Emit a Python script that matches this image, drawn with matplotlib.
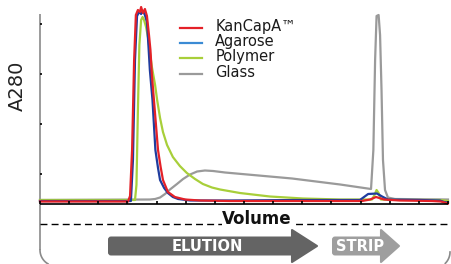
import numpy as np
import matplotlib
matplotlib.use('Agg')
import matplotlib.pyplot as plt
from matplotlib.patches import FancyBboxPatch, Polygon

# ---------------- data (volume in tick units, A280 in arbitrary units) ----------------
kancapa_x = [0.00, 3.02, 3.09, 3.16, 3.23, 3.29, 3.36, 3.43, 3.47, 3.53, 3.60, 3.67, 3.74, 3.79,
             3.84, 3.91, 3.98, 4.05, 4.14, 4.22, 4.39, 4.63, 4.98, 5.49, 6.52, 8.92, 11.05,
             11.33, 11.53, 11.81, 12.35, 13.45, 13.76, 14.00]
kancapa_y = [0.0, 0.0, 0.055, 0.515, 1.415, 1.865, 1.915, 1.895, 1.945, 1.885, 1.925, 1.855, 1.665, 1.515,
             1.265, 1.015, 0.765, 0.515, 0.345, 0.215, 0.095, 0.045, 0.02, 0.01, 0.005, 0.005, 0.005,
             0.02, 0.045, 0.02, 0.01, 0.005, 0.0, -0.02]

agarose_x = [0.00, 3.12, 3.19, 3.26, 3.33, 3.40, 3.47, 3.53, 3.60, 3.67, 3.72, 3.77, 3.86, 3.91,
             3.96, 4.05, 4.12, 4.26, 4.39, 4.56, 4.74, 5.15, 6.52, 8.92, 10.98, 11.12, 11.26,
             11.56, 11.74, 11.94, 13.04, 13.73, 13.86, 14.00]
agarose_y = [0.005, 0.005, 0.415, 1.415, 1.855, 1.895, 1.875, 1.905, 1.865, 1.795, 1.565, 1.315, 1.015, 0.765,
             0.515, 0.335, 0.215, 0.135, 0.085, 0.045, 0.025, 0.01, 0.01, 0.015, 0.015, 0.045, 0.075,
             0.08, 0.05, 0.02, 0.015, 0.01, -0.005, -0.01]

polymer_x = [0.00, 3.26, 3.31, 3.36, 3.41, 3.47, 3.52, 3.57, 3.64, 3.71, 3.77, 3.84, 3.95, 4.02,
             4.12, 4.22, 4.36, 4.56, 4.80, 5.04, 5.32, 5.59, 5.90, 6.18, 6.86, 7.89, 9.03, 10.30,
             11.39, 11.48, 11.55, 11.62, 11.70, 12.35, 13.73, 14.00]
polymer_y = [0.015, 0.015, 0.165, 0.915, 1.565, 1.815, 1.845, 1.815, 1.745, 1.635, 1.495, 1.345, 1.165, 1.015,
             0.835, 0.695, 0.565, 0.445, 0.355, 0.285, 0.225, 0.175, 0.14, 0.12, 0.085, 0.05, 0.03, 0.02,
             0.02, 0.065, 0.115, 0.085, 0.02, 0.015, 0.015, 0.005]

glass_x = [0.00, 3.77, 3.95, 4.12, 4.29, 4.46, 4.70, 4.91, 5.15, 5.39, 5.66, 5.94, 6.35, 8.65,
           10.30, 11.36, 11.44, 11.50, 11.55, 11.62, 11.67, 11.72, 11.77, 11.84, 11.94, 12.18, 14.00]
glass_y = [0.015, 0.02, 0.025, 0.04, 0.075, 0.12, 0.175, 0.225, 0.27, 0.30, 0.31, 0.305, 0.29, 0.23,
           0.17, 0.125, 0.515, 1.415, 1.855, 1.865, 1.665, 1.115, 0.415, 0.115, 0.04, 0.025, 0.02]

series = ['Glass', 'Polymer', 'Agarose', 'KanCapA™']
curve_colors = {'KanCapA™': '#e42128', 'Agarose': '#1f3c9e', 'Polymer': '#a8cf3a', 'Glass': '#9a9a9a'}
legend_colors = {'KanCapA™': '#e42128', 'Agarose': '#3b8bd4', 'Polymer': '#a8cf3a', 'Glass': '#9a9a9a'}
legend_order = ['KanCapA™', 'Agarose', 'Polymer', 'Glass']
x_ticks = np.arange(0, 15)
y_ticks = [0.275, 0.775, 1.275, 1.775]

curves = {
    'KanCapA™': (kancapa_x, kancapa_y),
    'Agarose': (agarose_x, agarose_y),
    'Polymer': (polymer_x, polymer_y),
    'Glass': (glass_x, glass_y),
}

# ---------------- figure ----------------
fig = plt.figure(figsize=(4.51, 2.64), dpi=100)

# decoration layer in pixel coordinates (frame + arrows)
deco = fig.add_axes([0, 0, 1, 1], zorder=0)
deco.set_xlim(0, 451)
deco.set_ylim(264, 0)
deco.axis('off')

frame_col = '#8a8a8a'
deco.plot([40, 40], [14, 250], color=frame_col, lw=1.2, solid_capstyle='butt')
t = np.linspace(0, np.pi / 3, 20)
deco.plot(56 - 16 * np.cos(t), 250 + 16 * np.sin(t), color=frame_col, lw=1.2)
t = np.linspace(0, np.pi / 4, 20)
deco.plot(434 + 16 * np.cos(t), 252 + 16 * np.sin(t), color=frame_col, lw=1.2)

# ELUTION / STRIP arrows
for x0, x1, tip, col, label in [(108, 294, 317, '#646464', 'ELUTION'),
                                (332, 383, 399, '#9e9e9e', 'STRIP')]:
    deco.add_patch(FancyBboxPatch((x0, 236.5), x1 - x0, 19,
                                  boxstyle='round,pad=0,rounding_size=3',
                                  fc=col, ec='none'))
    deco.add_patch(Polygon([(x1 - 2, 230), (tip, 246), (x1 - 2, 262)], closed=True,
                           fc=col, ec=col, lw=1.5, joinstyle='round'))
    tx = (x0 + 14 + (x1 - 2)) / 2 if label == 'ELUTION' else (x0 + x1) / 2 + 3
    deco.text(tx, 246.5, label, color='white', fontsize=10.5, fontweight='bold',
              ha='center', va='center')

# data layer
ax = fig.add_axes([0, 0, 1, 1], zorder=1)
ax.patch.set_alpha(0)
ax.set_xlim(-40 / 29.14, 411 / 29.14)
ax.set_ylim(-0.625, 2.015)
ax.axis('off')

for name in series:
    xs, ys = curves[name]
    ax.plot(xs, ys, color=curve_colors[name], lw=1.6, solid_joinstyle='round')

# x axis with ticks
ax.plot([0, 14], [-0.025, -0.025], color='black', lw=1.2, solid_capstyle='butt')
ax.vlines(x_ticks, -0.025, 0.01, color='black', lw=1.2)
# y ticks
ax.hlines(y_ticks, 0, 0.08, color='black', lw=1.2)

# dashed line
ax.plot([0, 14], [-0.225, -0.225], color='black', lw=1, dashes=(5, 3))

ax.text(7.45, -0.225, 'Volume', fontsize=12, fontweight='bold', color='#111111',
        ha='center', va='baseline',
        bbox=dict(fc='white', ec='none', pad=0.5))
ax.text(-0.772, 1.155, 'A280', fontsize=14, rotation=90, color='#222222',
        ha='center', va='center')

# legend
for i, name in enumerate(legend_order):
    ly = 1.735 - 0.152 * i
    ax.plot([4.80, 5.56], [ly, ly], color=legend_colors[name], lw=1.6)
    ax.text(6.01, ly - 0.03, name, fontsize=10.5, color='#1a1a1a', ha='left', va='baseline')

fig.savefig('out.png', dpi=100)
